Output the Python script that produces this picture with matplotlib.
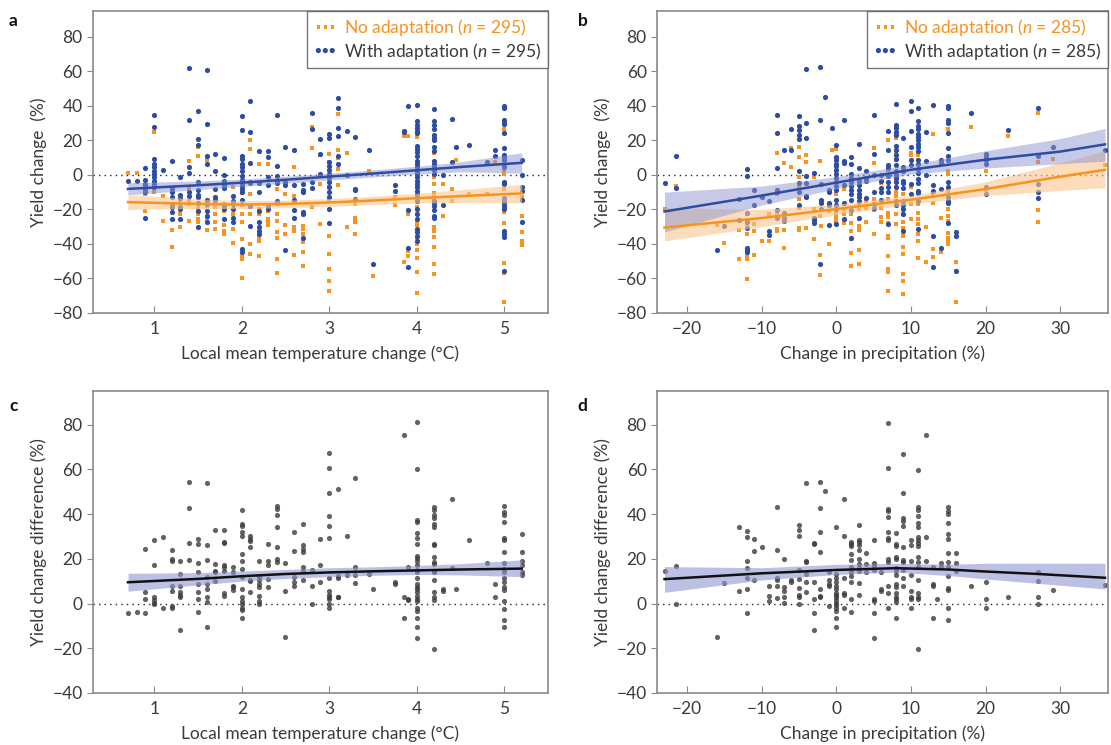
import numpy as np
import matplotlib
matplotlib.use('Agg')
import matplotlib.pyplot as plt

plt.rcParams['font.family'] = ['Lato', 'DejaVu Sans']
plt.rcParams['mathtext.fontset'] = 'custom'
plt.rcParams['mathtext.it'] = 'Lato:italic'
plt.rcParams['mathtext.rm'] = 'Lato'
plt.rcParams['font.size'] = 12.5

ORANGE = '#F7931E'
BLUE = '#2D4DA0'
GREY = '#3C3C3C'
TEXT = '#3a3a3a'
SPINE = '#8a8a8a'

# ---- panel a: yield change vs temperature change (x, [y values]) ----
a_no_adapt = [
    (0.7, [1]), (0.8, [1]), (0.9, [-10.5, -11, -20.7]),
    (1.0, [25, -9, -9.5, -10]), (1.1, [-12, -26.5]),
    (1.2, [-32, -42, -10, -19]), (1.3, [-16, -22.7, -30.4, -15]),
    (1.4, [8.3, -8, -15, -26.5, -17]),
    (1.5, [16, 11, -13, -19, -22.7, -25.6, -27.5]),
    (1.6, [8.7, -15, -18, -24.6, -26.5, -32]),
    (1.7, [-18.8, -22.7, -27, -31.2, -17]),
    (1.8, [-17, -32.4, -34.3, -29, -20.7]),
    (1.9, [-7, -22.7, -31.4, -39.7]),
    (2.0, [10.6, -10.5, -17.2, -22.7, -27, -37, -47, -48.8, -60]),
    (2.1, [20, 15, -11, -18.8, -22.7, -40, -46]),
    (2.2, [6.4, -22.7, -36.2, -38.2, -47, -20]),
    (2.3, [6.4, -20.7, -25.6, -27.5, -29]),
    (2.4, [-8, -22.7, -26.5, -33.3, -36.6, -48.5, -56.6]),
    (2.5, [-11, -29, -34.3]),
    (2.6, [4.8, -12, -15, -30.4, -32.4, -46.3]),
    (2.7, [-29.5, -31.4, -34.3, -39, -44.4, -53]),
    (2.8, [27.7, 15.5, -18.8]), (2.9, [11.6, -5.2, -28.5]),
    (3.0, [12.2, 7.4, -0.4, -7.2, -15, -35.3, -46, -54.7, -61.4, -67]),
    (3.1, [35.5, 14.2, 3.5, -5.8, 10]), (3.2, [12.6, -30]),
    (3.3, [-17, -25, -27, -34.3]), (3.45, [2]), (3.5, [-58.5]),
    (3.75, [-13, -17.2]), (3.85, [22.8, -50.4]),
    (3.9, [22.3, -22.7, -44, -47]),
    (4.0, [21.9, -14, -18.8, -22.7, -26.5, -29, -32.4, -36.6, -40, -43.6,
           -48.3, -56, -68.6]),
    (4.2, [12.6, -1.4, -5.2, -10.7, -13, -15, -30.4, -32.4, -36.2, -41.7,
           -51.7, -57.2]),
    (4.3, [-5.2, -23.6]), (4.4, [-15, -8]), (4.45, [8.7]), (4.6, [-11]),
    (4.8, [-11, 6.4]), (4.9, [7.4]),
    (5.0, [26.7, 2.5, 0.6, -8, -16, -21.7, -28, -34.3, -50.8, -57, -73.6]),
    (5.2, [-13, -23.6, -33.3, -38.2, -40.5]),
]
a_with_adapt = [
    (0.7, [-3.5]), (0.8, [-3.3]), (0.9, [4, -3, -5, -6, -8, -10, -25]),
    (1.0, [35, 28, 9, 6.5, 4.5, 2.5, 0.5, -1.5, -3.3, -5, -7]),
    (1.1, [3]), (1.2, [8, -8, -10, -13, -17, -18.4, -21.7, -25.6]),
    (1.3, [-1, -11.6, -13.4, -18.8, -20, -25.6]),
    (1.4, [62, 32, 4.5, 1, -10, -12]),
    (1.5, [37, 21, 17.5, -4, -9, -11.4, -13, -16, -20.7, -30.4]),
    (1.6, [61, 29.7, 11, 6.6, -14.5, -17, -20.7, -23.6, -27.5]),
    (1.7, [12, 2, -8, -13, -14.5]),
    (1.8, [10, 0, -3.3, -5.8, -7.6, -20, -25.6, -18]),
    (1.9, [-12, -15, -17, -20, -25, -27]),
    (2.0, [34, 26, 11, 9, 6.4, 4.5, 2.5, -0.4, -3, -4.8, -6.2, -8, -10,
           -14.5, -43, -44.4]),
    (2.1, [43, 25, 7, -4.3, -4.8, -17.8, -29.5]),
    (2.2, [14, -4.8, -10, -21, -27, -30.4, -32.4, -34.3]),
    (2.3, [14, 10.3, -1.4, -5.8, -17.8, -20]),
    (2.4, [34.7, 5, -0.8, -3.3, -4.8, -15, -16]),
    (2.5, [16, -4.3, -5.6, -43.6]),
    (2.6, [14.5, -5.8, -14.3, -20.3, -25]),
    (2.7, [-5.2, -8.5, -10, -21.7, -22.7, -36.6]),
    (2.8, [35.8, 26.7, -4.3, -7.6]), (2.9, [21, 12.2, 0.5]),
    (3.0, [23.8, 21.5, 7.7, 5.4, 2.9, 0.5, -1.8, -4.3, -7.2, -10, -13, -20,
           -28]),
    (3.1, [44.8, 38.8, 27, 22.5, 6.4, 11]), (3.2, [25.2, 0.2]),
    (3.3, [22, -8, -9, -14]), (3.45, [14.7]), (3.5, [-51.4]),
    (3.75, [-5.6, -9.5]), (3.85, [24.8, 25.4]),
    (3.9, [39.7, -20.3, -42.4, -53.3]),
    (4.0, [40.7, 31, 29, 27.3, 25.4, 24.2, 16.7, 15, 13, 10.7, 8.3, 6.4, 4.5,
           2.5, 0.6, -1.4, -3.3, -5.2, -7.2, -9.1, -11, -13, -15, -20, -22.7,
           -25.6, -31.4, -32.8, -35.3, -38.2]),
    (4.2, [38.4, 31.2, 28.7, 26.7, 23.2, 21.5, 20, 16, 13.8, 8, 6.4, 4.5,
           2.9, 0.6, -15, -16, -17.8, -20.3, -23.6, -25]),
    (4.3, [0, -17.2]), (4.4, [32.2, 7.7]), (4.45, [16]), (4.6, [17.4]),
    (4.8, [7.4]), (4.9, [14.5, 10.7]),
    (5.0, [39.7, 38.8, 32, 30, 29.3, 24.4, 15.7, 11.8, 10.3, 8.7, 6.4, 4.5,
           -4.3, -5.2, -13.6, -15, -16.3, -17.8, -19.8, -32.4, -34.3, -36,
           -55.6]),
    (5.2, [8.7, 0, -7.2, -9.5, -14.5, -27]),
]
a_fit_x = [0.7, 1.5, 2.0, 2.5, 3.0, 3.5, 4.0, 4.5, 5.2]
a_no_fit = [-15.8, -16.8, -17.2, -16.8, -16.0, -14.8, -13.5, -12.3, -10.7]
a_no_lo = [-20.0, -19.5, -19.5, -19.0, -18.3, -17.2, -16.3, -16.0, -16.3]
a_no_hi = [-11.5, -14.0, -14.8, -14.6, -13.7, -12.4, -10.7, -8.6, -5.5]
a_with_fit = [-8.1, -6.0, -4.5, -2.8, -1.0, 0.8, 2.7, 4.6, 7.0]
a_with_lo = [-11.6, -8.5, -6.6, -4.8, -3.0, -1.2, 0.5, 1.8, 1.0]
a_with_hi = [-4.5, -3.5, -2.4, -0.8, 1.0, 2.9, 5.0, 7.6, 12.8]

# ---- panel b: yield change vs precipitation change ----
b_no_adapt = [
    (-23, [-19.8]), (-21.5, [-6.2]), (-16, [-29.2]), (-15, [-39.3]),
    (-13, [-32.1, -48.6]), (-12, [-22.8, -28.2, -34, -47, -49, -60.3]),
    (-11, [-28.2, -32.5, -46.5]), (-10, [-38.3]), (-9, [-22.8, -38.3]),
    (-8, [12.6, -11.1, -32.5, -31.5, -22.8]), (-7, [6.8, -32.1, -42.2]),
    (-6, [15.6, 4.5]),
    (-5, [16.1, 10.3, -32.1, -7.2, -14, -18.9, -30.5, -1.4]),
    (-4, [11.3, 7.4, -13, -30.5]), (-3, [-19.8, -37.4, -1.4]),
    (-2.2, [7.8, -23.7, -46.5, -58.2]), (-2, [-15, -20.4, -29.6]),
    (-1, [-20.8, -40.3]), (-0.5, [14.6]),
    (0, [15.2, 2.5, -11.1, -18.9, -20.8, -22.8, -24.3, -26.3, -27.6]),
    (1, [-8.2, -16.9, -19.8, -22.8, -27.6]),
    (2, [-22.4, -27.6, -32.5, -37.4, -45.1, -53]),
    (3, [-17.3, -19.8, -25.7, -29.6, -32.1, -43.8, -51.6]),
    (4, [-15, -19.3, -27]), (5, [15.6, 6.8, -14, -20.4, -34.4]),
    (6, [-4.9, -18.9, -24.3, -27]),
    (7, [20, 2.9, -14, -21.8, -24.3, -27.6, -35.4, -36.8, -47, -54.5, -56.3,
         -67.1]),
    (8, [27.2, 21.6, 12.3, 8.8, -3.3, -7.2, -10.1, -12, -15, -17.3, -22.8,
         -28.2]),
    (9, [-11.1, -19.3, -22.8, -27, -30.5, -35.4, -41.8, -45.7, -57.4, -61.3,
         -69.1]),
    (10, [12.6, 11.3, -16.9, -25.7, -7.2]),
    (11, [12.6, 11.3, 8.8, -15, -16.9, -21.8, -25.7, -28.6, -34.4, -38.3,
          -48.4]),
    (12, [-30.1, -50.4]), (13, [23.5, -11.1, -16.5, -43.2, -47.7, -12]),
    (14, [-24.7, -44.6]),
    (15, [26.8, 2.1, 0.6, -9.1, -19.8, -23.7, -26.7, -33.5, -36.8, -40.3,
          -38.7]),
    (16, [-50.6, -55.8, -73.9]), (18, [27.8]), (20, [2.5, -8.8]),
    (23, [22.4]), (27, [35.6, 7.4, -20.4, -27.2]), (29, [9.3]), (36, [5.8]),
]
b_with_adapt = [
    (-23, [-4.9]), (-21.5, [10.7, -7.4]), (-16, [-43.8]), (-15, [-29.8]),
    (-13, [-14, -26.3]),
    (-12, [3.3, -0.4, -21.8, -27, -30.5, -42.6, -43.8, -44.6]),
    (-11, [-8.8, -17.3]), (-10, [-12.6]), (-9, [-15, -32.5, -34.8]),
    (-8, [35, 24, 3.9, -8.8, -10.1, -20.2, -25.1]),
    (-7, [14.6, -21.8, -24.7, -26.7]), (-6, [26.5, 14.6]),
    (-5, [34, 28.2, 26.3, 23, 21, 2.1, -4.9, -10.1, -17.3]),
    (-4, [29.8, 21.4, -0.8, -4.9, -12, -13, 61.3]),
    (-3, [1, -24.7, -26.3, -27.6]), (-2.2, [62.5, 32.1, -51.6]),
    (-2, [-5.3, -14.6, -16, -19.8]), (-1.5, [45.3]),
    (-1, [-8.8, -10.1, -16, -17.3, -29]), (-0.5, [27.4]),
    (0, [17.1, 10.3, 8.8, 6.4, 4.9, 2.9, 0.6, -1.8, -4.3, -6.2, -8.8, -14.6,
         -17.3, -19.8, -28.2]),
    (1, [32.1, 8, 6.8, -5.6, -16, -25.7]),
    (2, [10.3, 6.4, 0.6, -1.9, -4.3, -6.2, -8.8, -11.1, -14.6, -20.4, -36.8]),
    (3, [17.7, 3.9, -3.3, -5.8, -8.8, -11.1, -13, -15.4, -25.1]),
    (4, [2.1, -1.8, -3.3, -13.4]), (5, [35, 12.3, 0.2, -10.1, -16.9, -19.3]),
    (6, [0.2, -3.3, -7.6, -10.1, -14.6]),
    (7, [25.5, 14.2, 6, 4.1, -0.4, -4.3, -7.2, -10.1, -28.2]),
    (8, [40.9, 28.8, 27.2, 24.9, 23, 16.5, 14.2, 11.3, 9.3, 6, 2.1, 0.2, -1.8,
         -4.3, -6.8, -15, -17.3]),
    (9, [21.6, 4.5, 2.1, -3.3, -4.9, -7.6, -15, -17.3, -19.8, -22.8, -32.5]),
    (10, [42.8, 37, 25.3, 16.1, 8.8, 6, -5.3, -11.1]),
    (11, [38.5, 31.3, 28.2, 26.8, 23.9, 22, 20, 18.1, 16.1, 13.8, 8.8, 6.4,
          3.5, 1, -2.3, -4.9, -9.1, -10.7, -15, -31.5]),
    (12, [24.9, 8, 0.2]), (13, [40.5, -5.8, -9.1, -35.4, -53.5]),
    (14, [8.8, 6.8, -8.2, -42.2]),
    (15, [39.9, 38.9, 32.1, 30.2, 24.3, 15.8, 10.7, 8.8, -4.3, -6.8, -13, -15,
          -16, -27.6]),
    (16, [-32.9, -35.4, -55.4]), (18, [36]),
    (20, [11.9, 10.3, 8.4, 6.4, -6.8, -11.1]), (23, [25.9]),
    (27, [38.9, 10.7, -5.3, -10.1, -13.4]), (29, [16.1]), (36, [14.6]),
]
b_fit_x = [-23, -10, 0, 10, 20, 30, 36]
b_no_fit = [-30.5, -25.0, -19.8, -14.4, -8.2, -1.0, 2.9]
b_no_lo = [-38.3, -30.0, -23.0, -17.0, -12.0, -9.0, -7.5]
b_no_hi = [-19.0, -20.0, -17.0, -12.0, -4.0, 7.0, 14.0]
b_with_fit = [-21.2, -12.0, -4.5, 3.0, 8.8, 13.5, 17.7]
b_with_lo = [-33.0, -17.5, -8.0, 0.5, 4.0, 6.5, 8.0]
b_with_hi = [-10.0, -6.5, -1.0, 6.0, 14.0, 21.0, 27.0]

# ---- panel c: yield change difference vs temperature change ----
c_diff = [
    (0.7, [-4.3]), (0.8, [-3.7]), (0.9, [24.4, 5, 2, -4.3]),
    (1.0, [28.5, 17.4, 2.7, 1.5, 0.4, -0.3]), (1.1, [29.7, -1.8]),
    (1.2, [23.7, 20, 19.2, 8, 5.7, -1, -2]),
    (1.3, [19.2, 13.2, 8, 5, 3.9, 3, -11.8]),
    (1.4, [54.4, 42.8, 27, 19.5]),
    (1.5, [28.8, 26.4, 18, 14.2, 8.7, 5, 2.2, -4]),
    (1.6, [54, 26.2, 19.5, 11.7, 8.7, 6.4, 3, 0.6, -10.3]),
    (1.7, [33, 17.7, 14.7, 14, 10.2]),
    (1.8, [32.7, 27.7, 27, 17.2, 16.2, 14.7, 4.5, 3.4]),
    (1.9, [16.2, 14, 8, 7.2, 6.1]),
    (2.0, [42, 35.4, 34.5, 32, 30, 22.2, 18.9, 15.4, 12, 6.4, 2.7, 1.2, -0.3,
           -1.8, -3, -6.3]),
    (2.1, [30, 28.9, 27.9, 25.2, 10.5, 9.9, 5]),
    (2.2, [19.2, 11.7, 10.5, 8.7, 7.5, 3.4, 1.2, 0]),
    (2.3, [26.7, 18.9, 17, 11, 7.5]),
    (2.4, [43.4, 42.4, 39.4, 34.2, 25.2, 20, 18.4]),
    (2.5, [18, 5.7, -14.8]), (2.6, [32, 23.4, 11.7, 9.4, 8]),
    (2.7, [35.4, 26, 24.4, 23, 16.2, 14.7, 10.5]),
    (2.8, [15, 8, -0.3]), (2.9, [28.9, 17.4, 9.7]),
    (3.0, [67.1, 60.7, 49.6, 39, 34.5, 29.4, 11.4, 5.7, 3.9, 3, 2, -0.3, -2]),
    (3.1, [51, 12.4, 11.4, 3, 2.7]), (3.2, [30, 12.9]),
    (3.3, [56.2, 16.2, 12.9, 9]), (3.45, [13.2]), (3.5, [6.7]),
    (3.75, [9.4, 8.7]), (3.85, [75.4, 3.1, -6.3]), (3.9, [16.5, 2.2, 1.5]),
    (4.0, [81, 60, 37.2, 36.4, 31.5, 29.4, 26.7, 21.4, 20.4, 19.2, 17, 15, 14,
           11.4, 8.7, 7.5, 6.4, 5, 3.4, 2.2, 1.2, -2.2, -3.3, -6.6, -10.3,
           -15.3]),
    (4.2, [43.1, 42, 39.4, 38.2, 35.7, 34.2, 26.7, 26, 21, 18.4, 17.7, 14.7,
           14, 10.5, 5.2, 2.7, 1.6, -20.5]),
    (4.3, [6.4, 5.7]), (4.4, [46.9, 15.9]), (4.45, [6.4]), (4.6, [28.5]),
    (4.8, [18]), (4.9, [8.7, 3]),
    (5.0, [43.4, 40.9, 39.7, 36.4, 29.4, 28.2, 23, 18, 15.4, 14, 11.4, 9.4,
           7.2, 6, 0.9, -2.5, -7.5, -10.5]),
    (5.2, [30.9, 23, 19.2, 17, 14, 12.9]),
]
c_fit_x = [0.7, 1.5, 2.0, 2.5, 3.0, 3.5, 4.0, 4.5, 5.2]
c_fit = [9.5, 11.0, 12.2, 13.2, 13.9, 14.4, 14.8, 15.2, 15.6]
c_lo = [5.5, 8.3, 10.0, 11.2, 12.0, 12.6, 13.0, 12.8, 12.0]
c_hi = [13.5, 13.8, 14.5, 15.2, 16.0, 16.4, 17.0, 17.8, 19.5]

# ---- panel d: yield change difference vs precipitation change ----
d_diff = [
    (-23, [14.6]), (-21.5, [16.6, -0.3]), (-16, [-14.8]), (-15, [9.1]),
    (-13, [34, 5.4]), (-12, [32.5, 29.6, 19.1, 15.7, 11.3, 6.3, -4.2]),
    (-11, [28.7, 23.6, 10.6]), (-10, [25.4]), (-9, [7.9, 3.4, 1.2]),
    (-8, [43, 24, 11.3, 10.4, 7.9, 2.4]), (-7, [19.9, 7.5, 5.7, 3.1, 0.4]),
    (-6, [10.4, 9.7]), (-5, [35.1, 33, 30, 14.9, 10.9, 6.9, 3.9, 2.7, -0.3]),
    (-4, [53.7, 19.1, 18.4, 13.1, 9.4, 5.2]),
    (-3, [26.9, 26.6, 9.7, 1.9, -4.3, -11.8]),
    (-2.2, [54.2, 42.7, 31.8, 23.1, 6.7, 3.4, 3]), (-1.5, [50.4]),
    (-1, [13.9, 10.6, 8.7, 7.9, -1]),
    (0, [34, 13.1, 11.6, 9.4, 7.9, 6.4, 4.9, 3.9, 2.7, 1.5, 0.4, -0.7, -2.1,
         -3.3, -6.3, -10.3]),
    (1, [46.7, 30, 11.6, 4.5, 3.7, -1.8]),
    (2, [27.3, 26.6, 25.5, 22.1, 19.4, 16.1, 13.9, 12.4, 9.4, 2.2, -3.6]),
    (3, [35.1, 28.4, 27.3, 26.3, 23.9, 19.9, 17.6, 15.8, 14.6, 9.1, 3.7]),
    (4, [22.4, 17.6, 13.9]),
    (5, [28.4, 17.9, 16.9, 14.9, 1.9, 1.2, -4.3, -15.2]),
    (6, [13.9, 6.4, 5.4]),
    (7, [80.7, 60.4, 42.2, 41.2, 38.8, 31.8, 29.1, 28.5, 19.9, 18.4, 7.9, 4.9,
         -1.8]),
    (8, [31.3, 26.6, 25.8, 20.6, 19.9, 15.8, 14.6, 12.8, 8.7, 7.2, 4.5, 3,
         1.9, 0.7, -6.6]),
    (9, [66.9, 49.4, 38.1, 37, 34.8, 25.1, 19.4, 18.4, 14.9, 11.3, 7.9]),
    (10, [28.4, 26.3, 18.8, 12.8, 5.7, 2.7, 1.9, -2.2]),
    (11, [59.9, 43, 41.8, 39, 35.8, 34, 29.6, 28.5, 26.9, 25.8, 20.9, 18.4,
          16.1, 10.4, 4.9, 3, 1.8, -20.4]),
    (12, [75.1, 29.9, 19.1]), (13, [16.4, 8.7, 7.9, -6.3]), (13.5, [1.8]),
    (14, [17.9, 16.4]),
    (15, [43.3, 41.2, 40, 36.1, 31, 28.8, 22.8, 18.7, 16.4, 12.1, 6.9, 6,
          -2.2, -7.5]),
    (16, [22.8, 17.9, 14.6]), (18, [7.9]), (20, [9.4, 1.9, -2.2]), (23, [3]),
    (27, [13.9, 9.9, 3, -0.3]), (29, [6.1]), (36, [8.4]),
]
d_fit_x = [-23, -10, 0, 8, 15, 20, 27, 36]
d_fit = [10.9, 13.5, 15.0, 15.8, 15.2, 14.3, 13.2, 11.5]
d_lo = [5.0, 10.5, 13.0, 14.0, 12.5, 11.0, 9.0, 6.5]
d_hi = [16.5, 16.0, 17.5, 18.0, 17.5, 18.0, 18.0, 18.0]


def expand(groups):
    xs, ys = [], []
    for x, vals in groups:
        xs.extend([x] * len(vals))
        ys.extend(vals)
    return np.array(xs), np.array(ys)


def style_axes(ax, xlim, ylim, yticks, xticks, xlabel, ylabel):
    ax.set_xlim(*xlim)
    ax.set_ylim(*ylim)
    ax.set_xticks(xticks)
    ax.set_yticks(yticks)
    ax.set_yticklabels([str(t).replace('-', '\u2212') for t in yticks])
    ax.set_xticklabels([str(t).replace('-', '\u2212') for t in xticks])
    for s in ax.spines.values():
        s.set_color(SPINE)
        s.set_linewidth(1.2)
    ax.tick_params(axis='x', direction='in', length=5, color=SPINE,
                   labelcolor=TEXT, labelsize=12.5, pad=6)
    ax.tick_params(axis='y', direction='out', length=4, color=SPINE,
                   labelcolor=TEXT, labelsize=12.5)
    ax.axhline(0, color='#222222', ls=(0, (1, 3)), lw=1, zorder=1)
    ax.set_xlabel(xlabel, color=TEXT, fontsize=12.5, labelpad=6)
    ax.set_ylabel(ylabel, color=TEXT, fontsize=12.5, labelpad=4)


def paired_panel(ax, no_groups, with_groups, fx, nf, nlo, nhi, wf, wlo, whi, n):
    xn, yn = expand(no_groups)
    xw, yw = expand(with_groups)
    h1 = ax.scatter(xn, yn, s=6, marker='s', color=ORANGE, lw=0, zorder=2,
                    label=r'No adaptation ($\mathit{n}$ = %d)' % n)
    h2 = ax.scatter(xw, yw, s=14, marker='o', color=BLUE, lw=0, zorder=3,
                    label=r'With adaptation ($\mathit{n}$ = %d)' % n)
    ax.fill_between(fx, nlo, nhi, color='#FBC68E', alpha=0.6, lw=0, zorder=4)
    ax.fill_between(fx, wlo, whi, color='#8E95D0', alpha=0.5, lw=0, zorder=4)
    ax.plot(fx, nf, color=ORANGE, lw=1.8, zorder=5)
    ax.plot(fx, wf, color=BLUE, lw=1.8, zorder=5)
    leg = ax.legend(handles=[h1, h2], loc='upper right', scatterpoints=3,
                    scatteryoffsets=[0.5], frameon=True, fancybox=False,
                    edgecolor='#555555', borderaxespad=0, handletextpad=0.4,
                    handlelength=1.4, borderpad=0.35, labelspacing=0.15,
                    fontsize=12.5, markerscale=1.0)
    leg.get_frame().set_linewidth(1.0)
    leg.get_texts()[0].set_color(ORANGE)
    leg.get_texts()[1].set_color(TEXT)


def diff_panel(ax, groups, fx, f, lo, hi):
    x, y = expand(groups)
    ax.scatter(x, y, s=14, color=GREY, alpha=0.8, lw=0, zorder=2)
    ax.fill_between(fx, lo, hi, color='#9096D2', alpha=0.6, lw=0, zorder=3)
    ax.plot(fx, f, color='#111111', lw=1.8, zorder=4)


fig = plt.figure(figsize=(11.11, 7.45), dpi=100)
ax_a = fig.add_axes([0.0837, 0.5799, 0.4095, 0.4054])
ax_b = fig.add_axes([0.5914, 0.5799, 0.4059, 0.4054])
ax_c = fig.add_axes([0.0837, 0.0698, 0.4095, 0.4054])
ax_d = fig.add_axes([0.5914, 0.0698, 0.4059, 0.4054])

temp_label = 'Local mean temperature change (\u00b0C)'
prec_label = 'Change in precipitation (%)'

paired_panel(ax_a, a_no_adapt, a_with_adapt, a_fit_x, a_no_fit, a_no_lo,
             a_no_hi, a_with_fit, a_with_lo, a_with_hi, 295)
style_axes(ax_a, (0.3, 5.5), (-80, 95), list(range(-80, 81, 20)),
           [1, 2, 3, 4, 5], temp_label, 'Yield change  (%)')

paired_panel(ax_b, b_no_adapt, b_with_adapt, b_fit_x, b_no_fit, b_no_lo,
             b_no_hi, b_with_fit, b_with_lo, b_with_hi, 285)
style_axes(ax_b, (-24, 36.4), (-80, 95), list(range(-80, 81, 20)),
           [-20, -10, 0, 10, 20, 30], prec_label, 'Yield change  (%)')

diff_panel(ax_c, c_diff, c_fit_x, c_fit, c_lo, c_hi)
style_axes(ax_c, (0.3, 5.5), (-40, 95), list(range(-40, 81, 20)),
           [1, 2, 3, 4, 5], temp_label, 'Yield change difference (%)')

diff_panel(ax_d, d_diff, d_fit_x, d_fit, d_lo, d_hi)
style_axes(ax_d, (-24, 36.4), (-40, 95), list(range(-40, 81, 20)),
           [-20, -10, 0, 10, 20, 30], prec_label, 'Yield change difference (%)')

for letter, (fx_, fy_) in zip('abcd', [(0.008, 0.983), (0.52, 0.983),
                                       (0.008, 0.466), (0.52, 0.466)]):
    fig.text(fx_, fy_, letter, fontsize=12.5, fontweight='bold',
             color='#111111', ha='left', va='top')

fig.savefig('out.png', dpi=100)
